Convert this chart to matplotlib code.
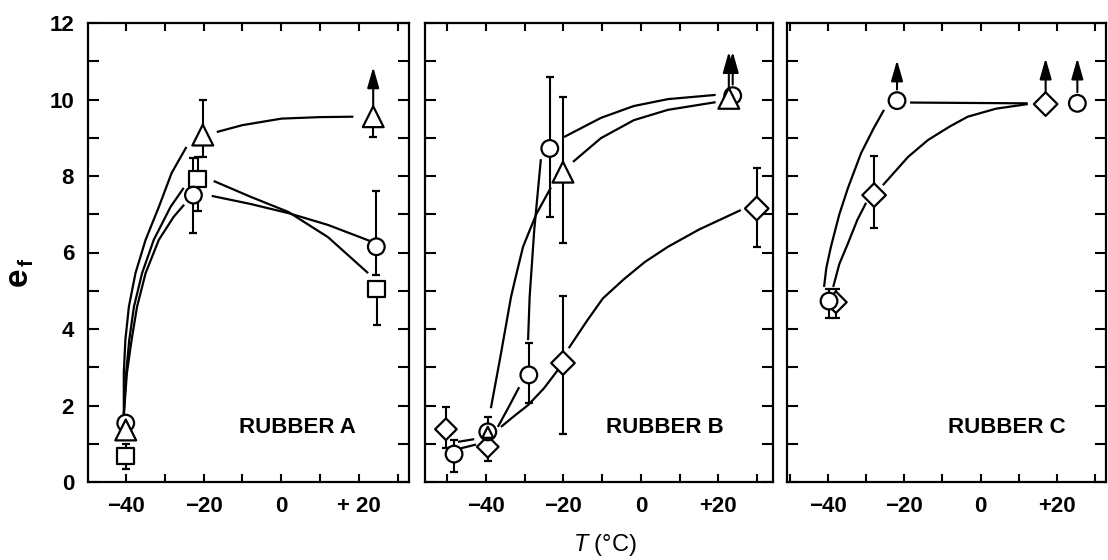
import matplotlib
matplotlib.use("Agg")
import matplotlib.pyplot as plt

plt.rcParams['font.family'] = ['Liberation Sans', 'DejaVu Sans']
plt.rcParams['mathtext.fontset'] = 'custom'
plt.rcParams['mathtext.rm'] = 'Liberation Sans'
plt.rcParams['mathtext.it'] = 'Liberation Sans:italic'

# ---- data (T in deg C, e_f) ----
# Rubber A
a_circ_x = [-40, -22.6, 24.4]
a_circ_y = [1.54, 7.5, 6.15]
a_circ_lo = [1.54, 6.5, 5.4]
a_circ_hi = [1.54, 8.47, 7.6]
a_sq_x = [-40, -21.5, 24.5]
a_sq_y = [0.68, 7.92, 5.05]
a_sq_lo = [0.34, 7.08, 4.1]
a_sq_hi = [1.0, 8.5, 5.05]
a_tri_x = [-40, -20.2, 23.6]
a_tri_y = [1.36, 9.07, 9.55]
a_tri_lo = [1.36, 8.5, 9.03]
a_tri_hi = [1.36, 9.99, 9.55]
a_arrow_x = [23.6]
a_arrow_y = [9.55]
a_arrow_top = [10.85]

# Rubber B
b_circ_x = [-48.2, -39.5, -28.9, -23.5, 23.7]
b_circ_y = [0.73, 1.31, 2.8, 8.72, 10.1]
b_circ_lo = [0.26, 1.31, 2.06, 6.92, 10.1]
b_circ_hi = [1.1, 1.7, 3.63, 10.6, 10.1]
b_tri_x = [-39.5, -20.1, 22.7]
b_tri_y = [1.3, 8.1, 10.03]
b_tri_lo = [1.3, 6.25, 10.03]
b_tri_hi = [1.3, 10.07, 10.03]
b_dia_x = [-50.3, -39.5, -20.1, 29.9]
b_dia_y = [1.38, 0.92, 3.11, 7.15]
b_dia_lo = [0.9, 0.55, 1.25, 6.15]
b_dia_hi = [1.96, 0.92, 4.85, 8.2]
b_arrow_x = [22.7, 23.7]
b_arrow_y = [10.03, 10.1]
b_arrow_top = [11.25, 11.25]

# Rubber C
c_circ_x = [-39.7, -21.9, 25.3]
c_circ_y = [4.73, 9.97, 9.9]
c_circ_lo = [4.29, 9.97, 9.9]
c_circ_hi = [5.05, 9.97, 9.9]
c_dia_x = [-37.9, -27.9, 17]
c_dia_y = [4.7, 7.5, 9.88]
c_dia_lo = [4.29, 6.64, 9.88]
c_dia_hi = [5.05, 8.53, 9.88]
c_arrow_x = [-21.9, 17, 25.3]
c_arrow_y = [9.97, 9.88, 9.9]
c_arrow_top = [11.03, 11.08, 11.08]

# hand-drawn guide curves, traced (visible segments only)
a_curves = [
    ([-40.5, -40.5, -40.1, -39.2, -37.5, -34.9, -31.5, -28.2, -24.4],
     [1.75, 2.85, 3.71, 4.58, 5.46, 6.33, 7.19, 8.08, 8.76]),
    ([-40.5, -39.9, -39.1, -37.9, -35.8, -32.8, -28.5, -25.1],
     [1.75, 2.85, 3.71, 4.58, 5.46, 6.33, 7.19, 7.69]),
    ([-40.5, -39.7, -38.5, -37.1, -34.9, -31.5, -27.7, -25.0],
     [1.75, 2.85, 3.71, 4.58, 5.46, 6.33, 6.93, 7.25]),
    ([-16.6, -10, 0, 10, 18.5], [9.15, 9.33, 9.5, 9.54, 9.55]),
    ([-17.9, -8, 1.8, 12, 22.8], [7.48, 7.27, 7.03, 6.72, 6.3]),
    ([-17.4, -8, 1.8, 12, 22.3], [7.87, 7.46, 7.06, 6.4, 5.46]),
]
b_curves = [
    ([-47.2, -43], [1.05, 1.12]),
    ([-46.5, -42.5], [0.88, 0.98]),
    ([-38.7, -36.2, -33.5, -32.2, -30.4, -27, -23.2],
     [1.93, 3.3, 4.84, 5.4, 6.15, 7.0, 7.7]),
    ([-17.5, -10.3, -1.8, 7, 19.3], [8.37, 8.99, 9.46, 9.73, 9.93]),
    ([-19.8, -10.3, -1.8, 7, 19.3], [9.02, 9.52, 9.83, 10.01, 10.12]),
    ([-36.9, -34, -31.4], [1.44, 1.98, 2.48]),
    ([-29.1, -28.7, -27.5, -25.8], [3.71, 4.84, 6.6, 8.44]),
    ([-36.1, -32.5, -29.1, -25, -21.4], [1.44, 1.74, 2.01, 2.45, 2.93]),
    ([-18.6, -14, -9.8, -4.4, 1, 7, 15, 25.8],
     [3.5, 4.2, 4.8, 5.3, 5.75, 6.15, 6.6, 7.11]),
]
c_curves = [
    ([-41, -40.4, -39.2, -37, -34.7, -31.3, -28, -25.3],
     [5.1, 5.6, 6.15, 7.0, 7.7, 8.6, 9.25, 9.73]),
    ([-18.5, 12.3], [9.92, 9.9]),
    ([-38.6, -37, -34.7, -32.3, -30], [5.1, 5.7, 6.25, 6.85, 7.3]),
    ([-25.6, -19, -13.8, -8, -3.4, 4, 12.3],
     [7.76, 8.5, 8.94, 9.3, 9.55, 9.76, 9.88]),
]

xtick_vals = [-40, -20, 0, 20]
a_xtick_labels = ['\u221240', '\u221220', '0', '+ 20']
bc_xtick_labels = ['\u221240', '\u221220', '0', '+20']
ytick_vals = [0, 2, 4, 6, 8, 10, 12]
panel_names = ['RUBBER A', 'RUBBER B', 'RUBBER C']

fig = plt.figure(figsize=(11.08, 5.6), dpi=100)
W, H = 1108, 560


def make_ax(x0, x1, xlim):
    ax = fig.add_axes([x0 / W, 1 - 482 / H, (x1 - x0) / W, 459 / H])
    for s in ax.spines.values():
        s.set_linewidth(1.6)
    ax.tick_params(direction='in', top=True, right=True, width=1.5,
                   labelsize=16, pad=10)
    ax.tick_params(axis='y', length=8)
    ax.tick_params(axis='x', length=6)
    ax.set_xticks(list(range(-50, 40, 10)))
    ax.set_yticks(list(range(0, 13)))
    ax.set_xlim(*xlim)
    ax.set_ylim(0, 12)
    return ax


def label_ticks(ax, xlabels, show_y):
    lab = []
    for t in range(-50, 40, 10):
        lab.append(xlabels[xtick_vals.index(t)] if t in xtick_vals else '')
    ax.set_xticklabels(lab)
    if show_y:
        ax.set_yticklabels([str(v) if v in ytick_vals else '' for v in range(0, 13)])
    else:
        ax.set_yticklabels([])
    for t in ax.get_xticklabels() + ax.get_yticklabels():
        t.set_fontweight('bold')


def draw_series(ax, x, y, lo, hi, marker, ms):
    yerr = [[yy - l for yy, l in zip(y, lo)], [h - yy for yy, h in zip(y, hi)]]
    ax.errorbar(x, y, yerr=yerr, fmt='none', ecolor='k', elinewidth=1.5,
                capsize=2.8, capthick=1.6, zorder=3)
    ax.scatter(x, y, s=[m ** 2 for m in ms], marker=marker, facecolors='white',
               edgecolors='k', linewidths=1.6, zorder=4)


def draw_arrows(ax, xs, ys, tops):
    for x, y, t in zip(xs, ys, tops):
        ax.annotate('', xy=(x, t), xytext=(x, y),
                    arrowprops=dict(arrowstyle='-|>,head_length=0.7,head_width=0.2',
                                    lw=1.5, color='k', mutation_scale=18,
                                    shrinkA=8, shrinkB=0), zorder=5)


def draw_curves(ax, curves):
    for cx, cy in curves:
        ax.plot(cx, cy, color='k', lw=1.6, zorder=2, solid_capstyle='butt',
                solid_joinstyle='round')


axA = make_ax(88, 409, (-49.7, 32.8))
axB = make_ax(425, 773, (-55.7, 34.1))
axC = make_ax(787, 1106, (-50.7, 32.8))

label_ticks(axA, a_xtick_labels, True)
label_ticks(axB, bc_xtick_labels, False)
label_ticks(axC, bc_xtick_labels, False)

# Rubber A
draw_curves(axA, a_curves)
draw_series(axA, a_sq_x, a_sq_y, a_sq_lo, a_sq_hi, 's', [12, 12, 12])
draw_series(axA, a_circ_x, a_circ_y, a_circ_lo, a_circ_hi, 'o', [12, 12, 12])
draw_series(axA, a_tri_x, a_tri_y, a_tri_lo, a_tri_hi, '^', [15, 15, 15])
draw_arrows(axA, a_arrow_x, a_arrow_y, a_arrow_top)

# Rubber B
draw_curves(axB, b_curves)
draw_series(axB, b_dia_x, b_dia_y, b_dia_lo, b_dia_hi, 'D', [11, 11, 12, 12])
draw_series(axB, b_circ_x, b_circ_y, b_circ_lo, b_circ_hi, 'o', [12, 12, 12, 12, 12])
draw_series(axB, b_tri_x, b_tri_y, b_tri_lo, b_tri_hi, '^', [8, 15, 15])
draw_arrows(axB, b_arrow_x, b_arrow_y, b_arrow_top)

# Rubber C
draw_curves(axC, c_curves)
draw_series(axC, c_dia_x, c_dia_y, c_dia_lo, c_dia_hi, 'D', [11, 12, 12])
draw_series(axC, c_circ_x, c_circ_y, c_circ_lo, c_circ_hi, 'o', [12, 12, 12])
draw_arrows(axC, c_arrow_x, c_arrow_y, c_arrow_top)

for ax, name, tx in zip([axA, axB, axC], panel_names, [4, 6.2, 6.8]):
    ax.text(tx, 1.43, name, ha='center', va='center', fontsize=16,
            fontweight='bold')

# y label e_f (rotated), subscript drawn separately so it stays readable
fig.text(18 / W, 1 - 277 / H, 'e', rotation=90, ha='center', va='center',
         fontsize=24, fontweight='bold')
fig.text(27 / W, 1 - 262 / H, 'f', rotation=90, ha='center', va='center',
         fontsize=15, fontweight='bold')
fig.text(605 / W, 1 - 545 / H, r'$\mathit{T}$ (°C)', ha='center',
         va='center', fontsize=17)

fig.savefig('out.png', dpi=100)
